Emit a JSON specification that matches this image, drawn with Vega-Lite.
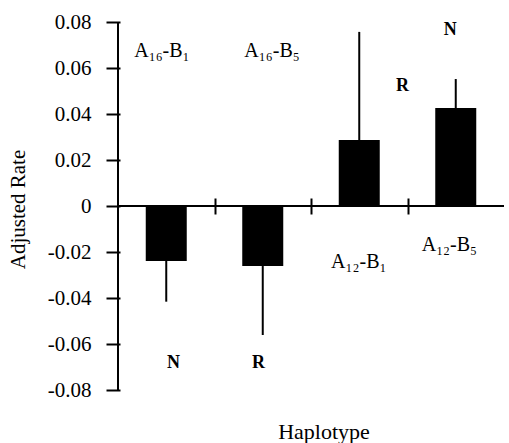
{
  "$schema": "https://vega.github.io/schema/vega-lite/v6.json",
  "width": 396,
  "height": 368,
  "autosize": {"type": "none"},
  "padding": {"left": 113, "top": 22, "right": 0, "bottom": 53},
  "config": {
    "font": "Times New Roman, Liberation Serif, serif",
    "view": {"stroke": null},
    "axis": {"labelColor": "black", "titleColor": "black", "tickColor": "black", "domainColor": "black", "grid": false}
  },
  "title": {"text": "Haplotype", "orient": "bottom", "fontSize": 22, "fontWeight": "normal", "color": "black", "offset": 22, "dx": 13},
  "datasets": {
    "bars": [
      {"haplotype": 1, "rate": -0.0239, "err": -0.0416},
      {"haplotype": 2, "rate": -0.0261, "err": -0.0561},
      {"haplotype": 3, "rate": 0.0287, "err": 0.0757},
      {"haplotype": 4, "rate": 0.0426, "err": 0.0552}
    ],
    "names": [
      {"x": 0.955, "y": 0.0648, "label": "A₁₆-B₁"},
      {"x": 2.096, "y": 0.0648, "label": "A₁₆-B₅"},
      {"x": 2.995, "y": -0.027, "label": "A₁₂-B₁"},
      {"x": 3.934, "y": -0.0196, "label": "A₁₂-B₅"}
    ],
    "letters": [
      {"x": 1.076, "y": -0.0683, "label": "N"},
      {"x": 1.955, "y": -0.0683, "label": "R"},
      {"x": 3.449, "y": 0.0522, "label": "R"},
      {"x": 3.944, "y": 0.0765, "label": "N"}
    ],
    "one": [{}]
  },
  "layer": [
    {
      "data": {"name": "bars"},
      "mark": {"type": "bar", "color": "black", "width": 41},
      "encoding": {
        "x": {"field": "haplotype", "type": "quantitative", "scale": {"domain": [0.5, 4.5], "nice": false, "zero": false},
          "axis": {"values": [1.5, 2.5, 3.5], "labels": false, "domain": false, "title": null, "tickSize": 16, "tickWidth": 2, "offset": -192}},
        "y": {"field": "rate", "type": "quantitative", "scale": {"domain": [-0.08, 0.08], "nice": false},
          "axis": {"values": [-0.08, -0.06, -0.04, -0.02, 0, 0.02, 0.04, 0.06, 0.08], "labelExpr": "toString(datum.value)", "domain": false, "tickSize": 14, "tickWidth": 2, "offset": -7, "labelFontSize": 21, "labelPadding": 15, "title": "Adjusted Rate", "titleFontSize": 21, "titleFontWeight": "normal", "titleX": -102, "titleY": 187, "titleBaseline": "middle"}}
      }
    },
    {
      "data": {"name": "bars"},
      "mark": {"type": "rule", "color": "black", "strokeWidth": 2},
      "encoding": {
        "x": {"field": "haplotype", "type": "quantitative"},
        "y": {"field": "rate", "type": "quantitative"},
        "y2": {"field": "err"}
      }
    },
    {
      "data": {"name": "one"},
      "mark": {"type": "rule", "color": "black", "strokeWidth": 2},
      "encoding": {
        "x": {"datum": 0.5, "type": "quantitative"},
        "x2": {"datum": 4.5},
        "y": {"datum": 0, "type": "quantitative"}
      }
    },
    {
      "data": {"name": "one"},
      "mark": {"type": "rule", "color": "black", "strokeWidth": 2},
      "encoding": {
        "x": {"datum": 0.5, "type": "quantitative"},
        "y": {"datum": -0.08, "type": "quantitative"},
        "y2": {"datum": 0.08}
      }
    },
    {
      "data": {"name": "names"},
      "mark": {"type": "text", "fontSize": 20, "color": "black", "align": "center", "baseline": "alphabetic"},
      "encoding": {
        "x": {"field": "x", "type": "quantitative"},
        "y": {"field": "y", "type": "quantitative"},
        "text": {"field": "label"}
      }
    },
    {
      "data": {"name": "letters"},
      "mark": {"type": "text", "fontSize": 18, "fontWeight": "bold", "color": "black", "align": "center", "baseline": "middle"},
      "encoding": {
        "x": {"field": "x", "type": "quantitative"},
        "y": {"field": "y", "type": "quantitative"},
        "text": {"field": "label"}
      }
    }
  ]
}
